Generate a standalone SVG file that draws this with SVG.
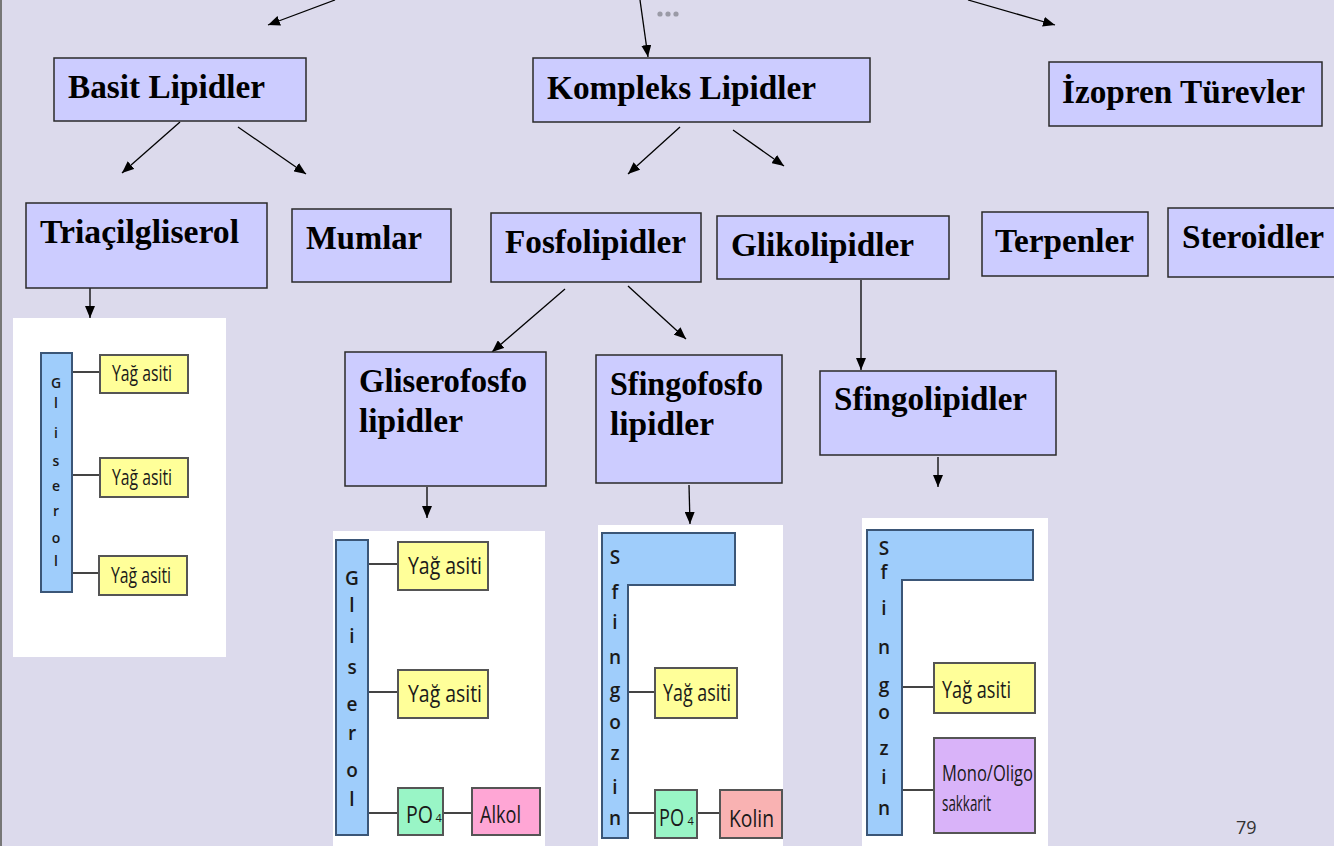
<svg xmlns="http://www.w3.org/2000/svg" width="1334" height="846" viewBox="0 0 1334 846">
<style>
.bg{fill:#dcdaec}
.node{fill:#ccccff;stroke:#2a2a2a;stroke-width:1.5}
.ht{font-family:"Liberation Serif","Times New Roman",serif;font-weight:bold;font-size:33px;fill:#000}
.panel{fill:#ffffff}
.bar{fill:#9fcdfb;stroke:#3b5677;stroke-width:2}
.fa{fill:#ffff99;stroke:#555555;stroke-width:2}
.po{fill:#99f5c6;stroke:#555555;stroke-width:2}
.alk{fill:#ffa6d5;stroke:#555555;stroke-width:2}
.kol{fill:#f9b2b2;stroke:#555555;stroke-width:2}
.sak{fill:#d9b3f9;stroke:#555555;stroke-width:2}
.lk{stroke:#444444;stroke-width:2;fill:none}
.st{font-family:"Open Sans","Noto Sans",sans-serif;font-size:20px;fill:#1a1a1a}
.bl{font-family:"Open Sans","Noto Sans",sans-serif;font-weight:600;font-size:17px;fill:#1a1a1a;text-anchor:middle}
.cn{stroke:#000;stroke-width:1.3;fill:none;marker-end:url(#ah)}
</style>
<defs>
<marker id="ah" markerUnits="userSpaceOnUse" markerWidth="12" markerHeight="10" refX="12" refY="5" orient="auto">
<path d="M0,0 L12,5 L0,10 z" fill="#000"/>
</marker>
</defs>
<rect class="bg" x="0" y="0" width="1334" height="846"/>
<line x1="1" y1="0" x2="1" y2="846" stroke="#777" stroke-width="2"/>
<g id="ellipsis" fill="#9a9aa6">
<circle cx="660" cy="14" r="2.6"/><circle cx="668" cy="14" r="2.6"/><circle cx="676" cy="14" r="2.6"/>
</g>

<g id="connectors">
<line class="cn" x1="335" y1="0" x2="268" y2="25"/>
<line class="cn" x1="640" y1="0" x2="648" y2="57"/>
<line class="cn" x1="968" y1="0" x2="1055" y2="25"/>
<line class="cn" x1="180" y1="122" x2="122" y2="173"/>
<line class="cn" x1="238" y1="127" x2="306" y2="174"/>
<line class="cn" x1="680" y1="127" x2="628" y2="174"/>
<line class="cn" x1="733" y1="130" x2="784" y2="166"/>
<line class="cn" x1="90" y1="288" x2="90" y2="318"/>
<line class="cn" x1="565" y1="289" x2="492" y2="352"/>
<line class="cn" x1="628" y1="286" x2="686" y2="339"/>
<line class="cn" x1="861" y1="280" x2="861" y2="370"/>
<line class="cn" x1="427" y1="487" x2="427" y2="518"/>
<line class="cn" x1="689" y1="485" x2="690" y2="524"/>
<line class="cn" x1="938" y1="457" x2="938" y2="487"/>
</g>

<g id="basit">
<rect class="node" x="54" y="58" width="252" height="63"/>
<text class="ht" x="68" y="98" textLength="197" lengthAdjust="spacingAndGlyphs">Basit Lipidler</text>
</g>
<g id="kompleks">
<rect class="node" x="533" y="58" width="337" height="64"/>
<text class="ht" x="547" y="99" textLength="269" lengthAdjust="spacingAndGlyphs">Kompleks Lipidler</text>
</g>
<g id="izopren">
<rect class="node" x="1049" y="62" width="273" height="64"/>
<text class="ht" x="1062" y="103" textLength="243" lengthAdjust="spacingAndGlyphs">İzopren Türevler</text>
</g>
<g id="triacil">
<rect class="node" x="26" y="203" width="241" height="85"/>
<text class="ht" x="40" y="243" textLength="199" lengthAdjust="spacingAndGlyphs">Triaçilgliserol</text>
</g>
<g id="mumlar">
<rect class="node" x="292" y="209" width="159" height="73"/>
<text class="ht" x="306" y="249" textLength="116" lengthAdjust="spacingAndGlyphs">Mumlar</text>
</g>
<g id="fosfo">
<rect class="node" x="491" y="213" width="210" height="69"/>
<text class="ht" x="505" y="253" textLength="181" lengthAdjust="spacingAndGlyphs">Fosfolipidler</text>
</g>
<g id="gliko">
<rect class="node" x="717" y="216" width="232" height="63"/>
<text class="ht" x="731" y="256" textLength="183" lengthAdjust="spacingAndGlyphs">Glikolipidler</text>
</g>
<g id="terpen">
<rect class="node" x="982" y="212" width="166" height="64"/>
<text class="ht" x="995" y="252" textLength="139" lengthAdjust="spacingAndGlyphs">Terpenler</text>
</g>
<g id="steroid">
<rect class="node" x="1168" y="208" width="170" height="69"/>
<text class="ht" x="1182" y="248" textLength="142" lengthAdjust="spacingAndGlyphs">Steroidler</text>
</g>
<g id="gliserofosfo">
<rect class="node" x="345" y="352" width="201" height="134"/>
<text class="ht" x="359" y="392" textLength="168" lengthAdjust="spacingAndGlyphs">Gliserofosfo</text>
<text class="ht" x="359" y="432" textLength="104" lengthAdjust="spacingAndGlyphs">lipidler</text>
</g>
<g id="sfingofosfo">
<rect class="node" x="596" y="355" width="186" height="128"/>
<text class="ht" x="610" y="395" textLength="153" lengthAdjust="spacingAndGlyphs">Sfingofosfo</text>
<text class="ht" x="610" y="435" textLength="104" lengthAdjust="spacingAndGlyphs">lipidler</text>
</g>
<g id="sfingolipid">
<rect class="node" x="820" y="371" width="236" height="84"/>
<text class="ht" x="834" y="410" textLength="193" lengthAdjust="spacingAndGlyphs">Sfingolipidler</text>
</g>

<g id="img-triacil">
<rect class="panel" x="13" y="318" width="213" height="339"/>
<line class="lk" x1="72" y1="372" x2="100" y2="372"/>
<line class="lk" x1="72" y1="475" x2="100" y2="475"/>
<line class="lk" x1="72" y1="573" x2="99" y2="573"/>
<rect class="bar" x="41" y="353" width="31" height="239"/>
<g class="bl" style="font-size:14px">
<text x="56" y="388">G</text><text x="56" y="408">l</text><text x="56" y="438">i</text><text x="56" y="466">s</text><text x="56" y="491">e</text><text x="56" y="516">r</text><text x="56" y="543">o</text><text x="56" y="566">l</text>
</g>
<rect class="fa" x="100" y="355" width="88" height="38"/>
<rect class="fa" x="100" y="458" width="88" height="39"/>
<rect class="fa" x="99" y="556" width="88" height="39"/>
<text class="st" x="112" y="381" style="font-size:21px" textLength="60" lengthAdjust="spacingAndGlyphs">Yağ asiti</text>
<text class="st" x="112" y="485" style="font-size:21px" textLength="60" lengthAdjust="spacingAndGlyphs">Yağ asiti</text>
<text class="st" x="111" y="583" style="font-size:21px" textLength="60" lengthAdjust="spacingAndGlyphs">Yağ asiti</text>
</g>

<g id="img-gliserofosfo">
<rect class="panel" x="333" y="531" width="212" height="315"/>
<line class="lk" x1="368" y1="564" x2="398" y2="564"/>
<line class="lk" x1="368" y1="692" x2="398" y2="692"/>
<line class="lk" x1="368" y1="813" x2="398" y2="813"/>
<line class="lk" x1="443" y1="813" x2="472" y2="813"/>
<rect class="bar" x="336" y="540" width="32" height="295"/>
<g class="bl" style="font-size:19px">
<text x="352" y="585">G</text><text x="352" y="612">l</text><text x="352" y="643">i</text><text x="352" y="674">s</text><text x="352" y="711">e</text><text x="352" y="740">r</text><text x="352" y="777">o</text><text x="352" y="806">l</text>
</g>
<rect class="fa" x="398" y="542" width="90" height="48"/>
<rect class="fa" x="398" y="670" width="90" height="48"/>
<rect class="po" x="398" y="788" width="45" height="47"/>
<rect class="alk" x="472" y="788" width="68" height="47"/>
<text class="st" x="408" y="574" style="font-size:24px" textLength="74" lengthAdjust="spacingAndGlyphs">Yağ asiti</text>
<text class="st" x="408" y="702" style="font-size:24px" textLength="74" lengthAdjust="spacingAndGlyphs">Yağ asiti</text>
<text class="st" x="406" y="823" style="font-size:24px" textLength="27" lengthAdjust="spacingAndGlyphs">PO</text>
<text class="st" x="435.5" y="822" style="font-size:11px">4</text>
<text class="st" x="480" y="823" style="font-size:24px" textLength="41" lengthAdjust="spacingAndGlyphs">Alkol</text>
</g>

<g id="img-sfingofosfo">
<rect class="panel" x="598" y="525" width="185" height="321"/>
<line class="lk" x1="628" y1="692" x2="655" y2="692"/>
<line class="lk" x1="628" y1="813" x2="655" y2="813"/>
<line class="lk" x1="697" y1="813" x2="720" y2="813"/>
<polygon class="bar" points="602,533 735,533 735,585 628,585 628,838 602,838"/>
<g class="bl" style="font-size:19px">
<text x="615" y="564">S</text><text x="615" y="599">f</text><text x="615" y="629">i</text><text x="615" y="664">n</text><text x="615" y="697">g</text><text x="615" y="729">o</text><text x="615" y="760">z</text><text x="615" y="794">i</text><text x="615" y="825">n</text>
</g>
<rect class="fa" x="655" y="668" width="82" height="50"/>
<rect class="po" x="655" y="790" width="42" height="48"/>
<rect class="kol" x="720" y="790" width="62" height="48"/>
<text class="st" x="663" y="701" style="font-size:24px" textLength="68" lengthAdjust="spacingAndGlyphs">Yağ asiti</text>
<text class="st" x="659" y="826" style="font-size:24px" textLength="25" lengthAdjust="spacingAndGlyphs">PO</text>
<text class="st" x="687.5" y="825" style="font-size:11px">4</text>
<text class="st" x="729" y="827" style="font-size:24px" textLength="45" lengthAdjust="spacingAndGlyphs">Kolin</text>
</g>

<g id="img-sfingolipid">
<rect class="panel" x="862" y="518" width="186" height="328"/>
<line class="lk" x1="902" y1="687" x2="934" y2="687"/>
<line class="lk" x1="902" y1="790" x2="934" y2="790"/>
<polygon class="bar" points="867,530 1033,530 1033,580 902,580 902,835 867,835"/>
<g class="bl" style="font-size:19px">
<text x="884" y="555">S</text><text x="884" y="579">f</text><text x="884" y="615">i</text><text x="884" y="654">n</text><text x="884" y="692">g</text><text x="884" y="719">o</text><text x="884" y="755">z</text><text x="884" y="784">i</text><text x="884" y="815">n</text>
</g>
<rect class="fa" x="934" y="663" width="101" height="50"/>
<rect class="sak" x="934" y="738" width="101" height="95"/>
<text class="st" x="942" y="698" style="font-size:24px" textLength="69" lengthAdjust="spacingAndGlyphs">Yağ asiti</text>
<text class="st" x="942" y="781" style="font-size:22px" textLength="91" lengthAdjust="spacingAndGlyphs">Mono/Oligo</text>
<text class="st" x="942" y="811" style="font-size:22px" textLength="49" lengthAdjust="spacingAndGlyphs">sakkarit</text>
</g>

<text x="1236" y="834" style="font-family:'Open Sans','Noto Sans',sans-serif;font-size:18px;fill:#333">79</text>
</svg>
